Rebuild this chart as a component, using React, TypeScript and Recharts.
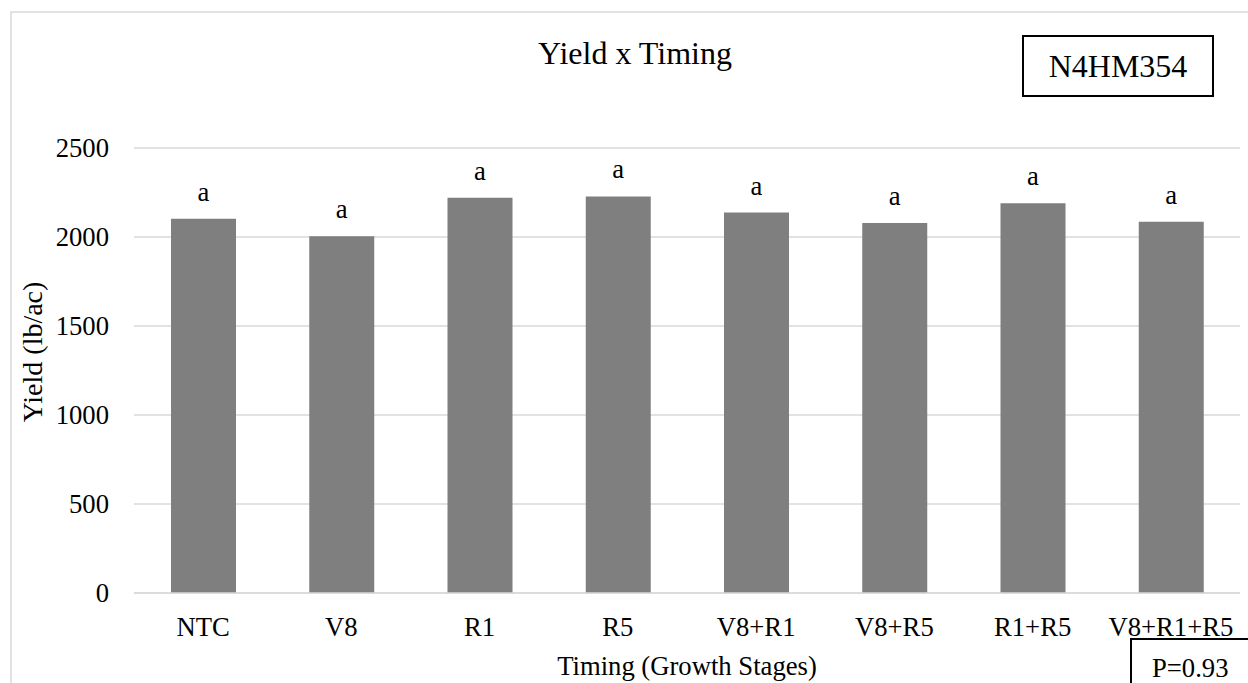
import React from 'react';
import { BarChart, Bar, XAxis, YAxis, CartesianGrid, LabelList } from 'recharts';

// treatment timings and mean yield (lb/ac)
const timings = ['NTC', 'V8', 'R1', 'R5', 'V8+R1', 'V8+R5', 'R1+R5', 'V8+R1+R5'];
const yields = [2103, 2004, 2221, 2228, 2137, 2079, 2189, 2086];
const letters = ['a', 'a', 'a', 'a', 'a', 'a', 'a', 'a'];
const yTicks = [0, 500, 1000, 1500, 2000, 2500];

const data = timings.map((t, i) => ({ timing: t, yield: yields[i], letter: letters[i] }));

const FONT = 'Liberation Serif, serif';
const GRID = '#d9d9d9';
const TICK_SIZE = 26.67;

const XTick = (props: any) => {
  const { x, y, payload } = props;
  return (
    <text x={x} y={y + 19} textAnchor="middle" fontSize={TICK_SIZE} fontFamily={FONT} fill="#000">
      {payload.value}
    </text>
  );
};

const YTick = (props: any) => {
  const { x, y, payload } = props;
  return (
    <text x={x} y={y + 9} textAnchor="end" fontSize={TICK_SIZE} fontFamily={FONT} fill="#000">
      {payload.value}
    </text>
  );
};

const Letter = (props: any) => {
  const { x, y, width, value } = props;
  return (
    <text x={x + width / 2} y={y - 18} textAnchor="middle" fontSize={TICK_SIZE} fontFamily={FONT} fill="#000">
      {value}
    </text>
  );
};

const App: React.FC = () => {
  return (
    <div style={{ position: 'absolute', left: 0, top: 0, width: 1248, height: 683, overflow: 'hidden', background: '#fff', fontFamily: FONT }}>
      <BarChart
        width={1248}
        height={683}
        data={data}
        margin={{ top: 148, right: 8, bottom: 0, left: 0 }}
      >
        <CartesianGrid vertical={false} stroke={GRID} strokeWidth={1.5} />
        <XAxis
          dataKey="timing"
          height={90}
          axisLine={{ stroke: GRID, strokeWidth: 1.5 }}
          tickLine={false}
          tickSize={6}
          tickMargin={18}
          interval={0}
          tick={<XTick />}
        />
        <YAxis
          width={134}
          domain={[0, 2500]}
          ticks={yTicks}
          axisLine={false}
          tickLine={false}
          tickSize={6}
          tickMargin={19}
          tick={<YTick />}
        />
        <Bar dataKey="yield" fill="#7f7f7f" barSize={65} isAnimationActive={false}>
          <LabelList dataKey="letter" content={<Letter />} />
        </Bar>
      </BarChart>

      <svg
        width={1248}
        height={683}
        style={{ position: 'absolute', left: 0, top: 0, pointerEvents: 'none' }}
        fontFamily={FONT}
      >
        {/* chart area border */}
        <rect x={11} y={12} width={1300} height={720} fill="none" stroke={GRID} strokeWidth={1.5} />
        <text x={635} y={64} textAnchor="middle" fontSize={32} fill="#000">Yield x Timing</text>

        <rect x={1023} y={36} width={190} height={60} fill="#fff" stroke="#000" strokeWidth={2} />
        <text x={1118} y={77} textAnchor="middle" fontSize={32} fill="#000">N4HM354</text>

        <text
          x={0}
          y={0}
          transform="translate(42, 352) rotate(-90)"
          textAnchor="middle"
          fontSize={28}
          fill="#000"
        >
          Yield (lb/ac)
        </text>
        <text x={687} y={675} textAnchor="middle" fontSize={TICK_SIZE} fill="#000">Timing (Growth Stages)</text>

        <rect x={1131} y={639} width={200} height={100} fill="#fff" stroke="#000" strokeWidth={2} />
        <text x={1152} y={677} fontSize={TICK_SIZE} fill="#000">P=0.93</text>
      </svg>
    </div>
  );
};

export default App;
